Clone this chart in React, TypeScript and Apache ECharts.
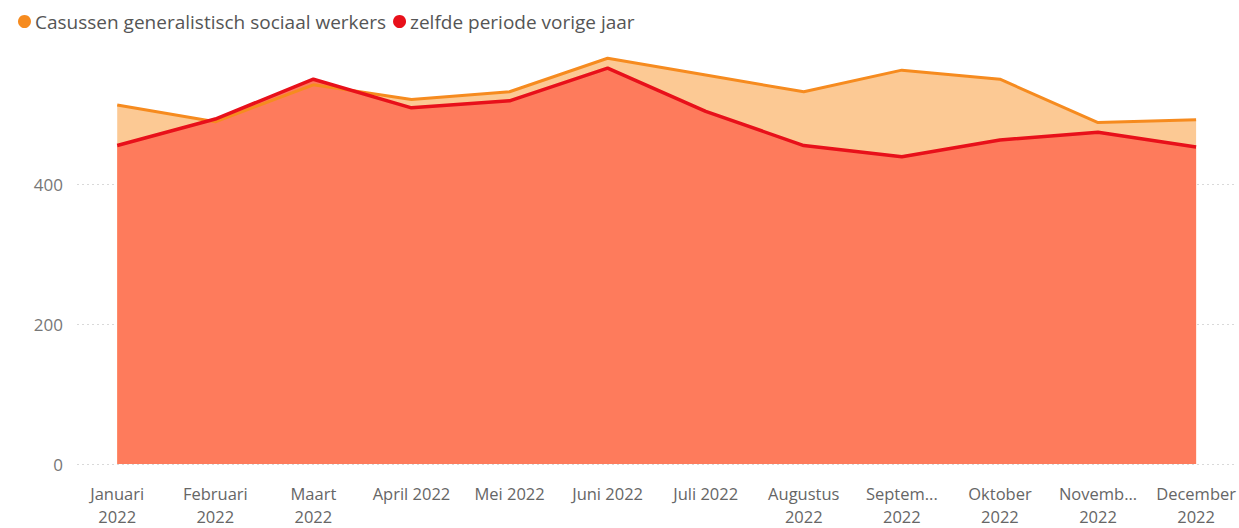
import React, { useEffect, useRef } from "react";
import * as echarts from "echarts";

const categories = [
  "Januari\n2022", "Februari\n2022", "Maart\n2022", "April 2022", "Mei 2022", "Juni 2022",
  "Juli 2022", "Augustus\n2022", "Septem...\n2022", "Oktober\n2022", "Novemb...\n2022", "December\n2022",
];
const casussen = [514, 490, 543, 522, 533, 581, 557, 533, 564, 551, 489, 493];
const vorigeJaar = [456, 494, 551, 510, 520, 567, 505, 456, 440, 464, 475, 454];
const yTicks = [0, 200, 400];

const NAME_A = "Casussen generalistisch sociaal werkers";
const NAME_B = "zelfde periode vorige jaar";
const FONT = "'Open Sans', 'Noto Sans', sans-serif";

export default function App() {
  const ref = useRef<HTMLDivElement>(null);
  useEffect(() => {
    if (!ref.current) return;
    const chart = echarts.init(ref.current, undefined, { renderer: "svg" });
    const pts = (arr: number[]) => arr.map((v, i) => [i, v]);
    chart.setOption({
      animation: false,
      backgroundColor: "#ffffff",
      legend: {
        data: [
          { name: NAME_A, icon: "circle" },
          { name: NAME_B, icon: "circle" },
        ],
        left: 13,
        top: 7,
        itemWidth: 13,
        itemHeight: 13,
        itemGap: 7,
        textStyle: { fontFamily: FONT, fontSize: 19, color: "#555", padding: [0, 0, 0, -1] },
      },
      grid: { left: 77, right: 2, top: 45, bottom: 63, containLabel: false },
      xAxis: {
        type: "value",
        min: -0.41,
        max: 11.41,
        axisLine: { show: false },
        axisTick: { show: false },
        splitLine: { show: false },
        axisLabel: {
          customValues: categories.map((_, i) => i),
          formatter: (v: number) => categories[Math.round(v)] ?? "",
          fontFamily: FONT,
          fontSize: 16.5,
          color: "#666",
          lineHeight: 23,
          margin: 18,
          verticalAlign: "top",
        },
      },
      yAxis: {
        type: "value",
        min: 0,
        max: 600,
        interval: 200,
        axisLine: { show: false },
        axisTick: { show: false },
        axisLabel: {
          customValues: yTicks,
          fontFamily: FONT,
          fontSize: 17,
          color: "#777",
          margin: 14,
        },
        splitLine: {
          show: true,
          showMaxLine: false,
          lineStyle: { color: "#d9d9d9", type: [2, 3], width: 1 },
        },
      },
      series: [
        {
          name: NAME_A + " area",
          type: "line",
          data: pts(casussen),
          symbol: "none",
          lineStyle: { width: 0 },
          areaStyle: { color: "#FCC994", opacity: 1 },
          z: 1,
          silent: true,
        },
        {
          name: NAME_B + " area",
          type: "line",
          data: pts(vorigeJaar),
          symbol: "none",
          lineStyle: { width: 0 },
          areaStyle: { color: "#FE7B5C", opacity: 1 },
          z: 2,
          silent: true,
        },
        {
          name: NAME_A,
          type: "line",
          data: pts(casussen),
          symbol: "none",
          color: "#F68B1F",
          lineStyle: { width: 3, color: "#F68B1F" },
          itemStyle: { color: "#F68B1F" },
          z: 3,
        },
        {
          name: NAME_B,
          type: "line",
          data: pts(vorigeJaar),
          symbol: "none",
          color: "#E8101A",
          lineStyle: { width: 3.5, color: "#E8101A" },
          itemStyle: { color: "#E8101A" },
          z: 4,
        },
      ],
    });
    return () => chart.dispose();
  }, []);
  return <div ref={ref} style={{ width: 1239, height: 528, position: "absolute", left: 0, top: 0 }} />;
}
